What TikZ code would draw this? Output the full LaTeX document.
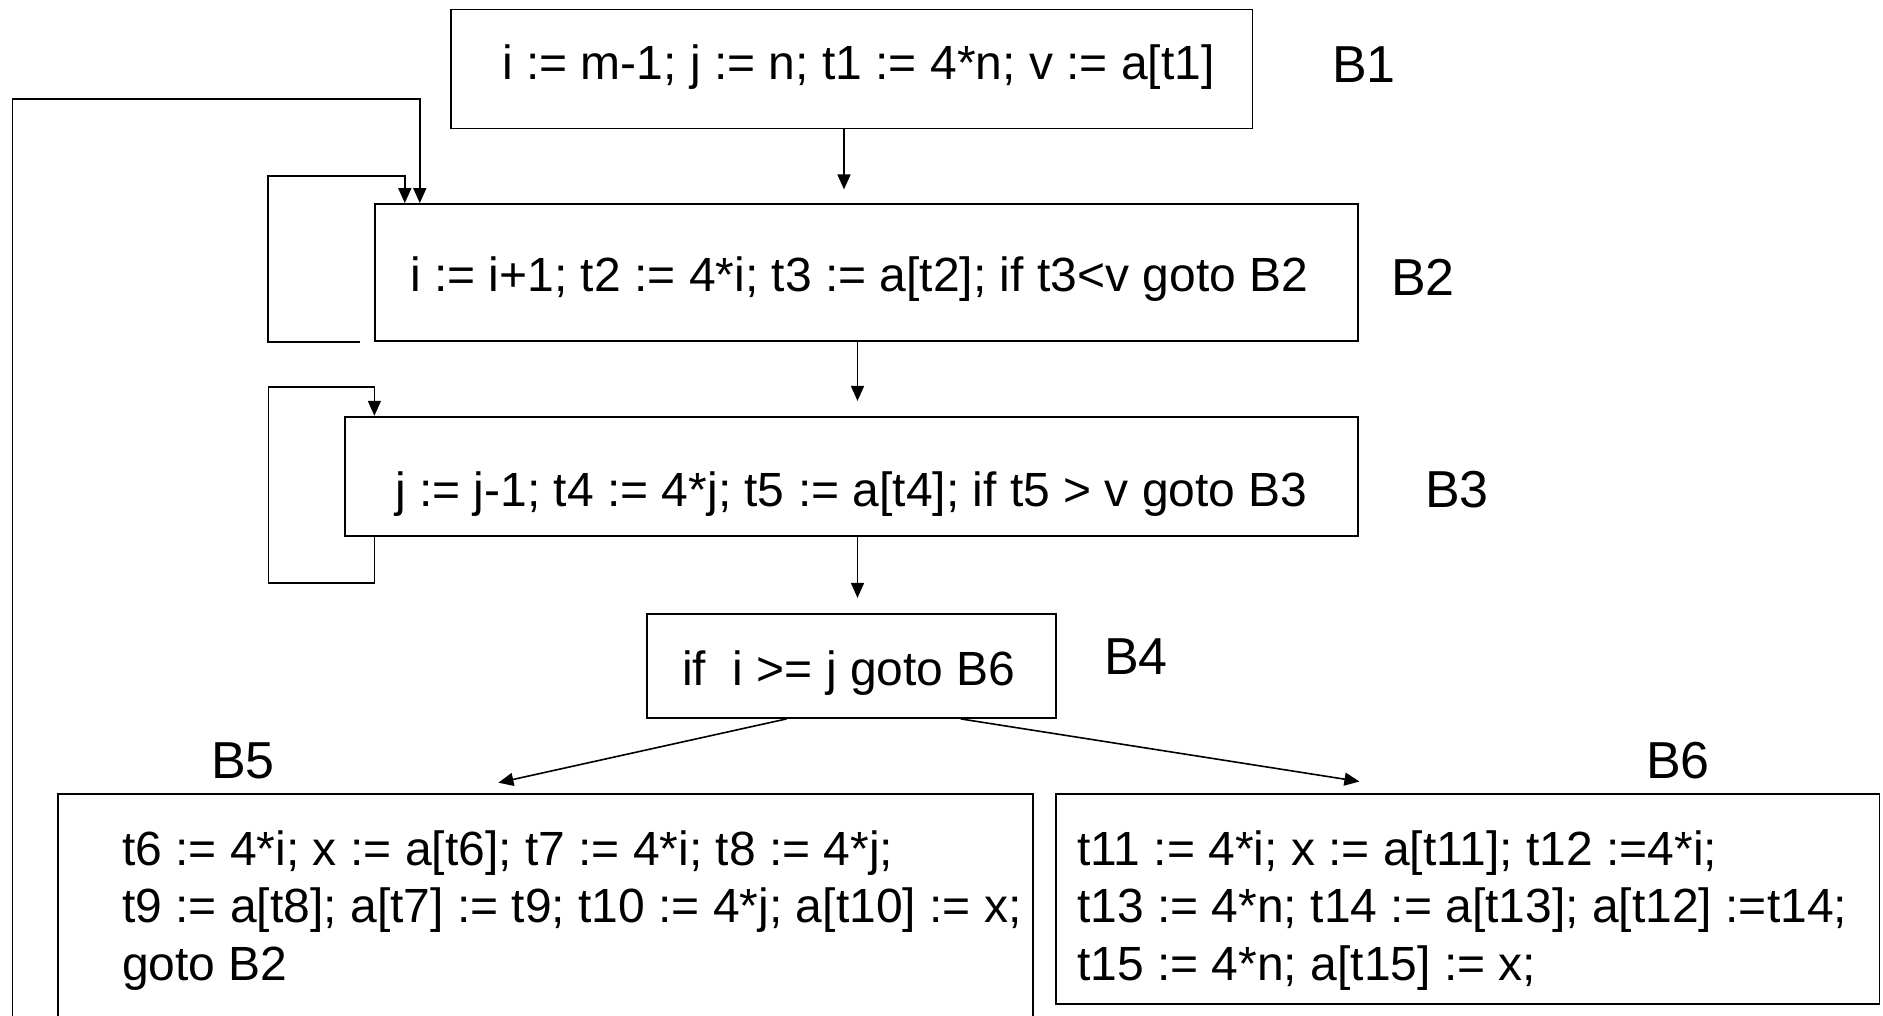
\documentclass[tikz,border=0pt]{standalone}
\usepackage{fontspec}
\setmainfont{Liberation Sans}
\usetikzlibrary{arrows.meta}
\tikzset{
  box/.style={draw, line width=1.8pt, inner sep=0pt, rectangle},
  code/.style={anchor=base west, inner sep=0pt, font=\fontsize{48}{57.6}\selectfont},
  codeblock/.style={code, text width=1000pt, align=flush left},
  blabel/.style={anchor=base west, inner sep=0pt, font=\fontsize{52}{62}\selectfont},
  arr/.style={-{Triangle[length=15pt,width=13pt]}, line width=1.6pt},
}
\begin{document}
\begin{tikzpicture}[x=1pt,y=-1pt]
\useasboundingbox (0,0) rectangle (1883,1016);
\fill[white] (0,0) rectangle (1883,1016);

% boxes
\node[box, minimum width=801.5pt, minimum height=118.9pt] (B1) at (851.75,69.05) {};
\node[box, minimum width=983pt, minimum height=137pt] (B2) at (866.5,272.5) {};
\node[box, minimum width=1013pt, minimum height=119.3pt] (B3) at (851.5,476.35) {};
\node[box, minimum width=408.3pt, minimum height=104.3pt] (B4) at (851.45,665.85) {};
\node[box, minimum width=975.1pt, minimum height=250pt] (B5) at (545.25,919) {};
\node[box, minimum width=823.8pt, minimum height=210pt] (B6) at (1467.5,899) {};

% texts
\node[code] (t1) at (502,80) {i := m-1; j := n; t1 := 4*n; v := a[t1]};
\node[code] (t2) at (410,292) {i := i+1; t2 := 4*i; t3 := a[t2]; if t3<v goto B2};
\node[code] (t3) at (395,506) {j := j-1; t4 := 4*j; t5 := a[t4]; if t5 > v goto B3};
\node[code] (t4) at (682,685) {if\ \ i >= j goto B6};
\node[codeblock] (t5) at (122,865) {t6 := 4*i; x := a[t6]; t7 := 4*i; t8 := 4*j;\\
t9 := a[t8]; a[t7] := t9; t10 := 4*j; a[t10] := x;\\
goto B2};
\node[codeblock] (t6) at (1077,865) {t11 := 4*i; x := a[t11]; t12 :=4*i;\\
t13 := 4*n; t14 := a[t13]; a[t12] :=t14;\\
t15 := 4*n; a[t15] := x;};

% labels
\node[blabel] (L1) at (1332,83) {B1};
\node[blabel] (L2) at (1391,296) {B2};
\node[blabel] (L3) at (1425,507) {B3};
\node[blabel] (L4) at (1104,674) {B4};
\node[blabel] (L5) at (211,778) {B5};
\node[blabel] (L6) at (1646,778) {B6};

% straight connectors
\draw[arr] ([xshift=-7.75pt]B1.south) -- ++(0,60);
\draw[arr] ([xshift=-9pt]B2.south) -- ++(0,59);
\draw[arr] ([xshift=6pt]B3.south) -- ++(0,61);
\draw[arr] ([xshift=-64.85pt]B4.south) -- ++(-288.2,63.8);
\draw[arr] ([xshift=109.25pt]B4.south) -- ++(398.7,62.6);

% loops
\draw[arr] ([xshift=-14pt]B2.south west) -- ++(-92,0) -- ++(0,-166) -| ([xshift=30.7pt]B2.north west);
\coordinate (outerstart) at (12.3,1030);
\draw[arr] (outerstart) -- ++(0,-930.7) -| ([xshift=45.7pt]B2.north west);
\draw[arr] ([xshift=30.3pt]B3.south west) -- ++(0,46.3) -- ++(-106,0) -- ++(0,-196.3) -| ([xshift=30.3pt]B3.north west);
\end{tikzpicture}
\end{document}
